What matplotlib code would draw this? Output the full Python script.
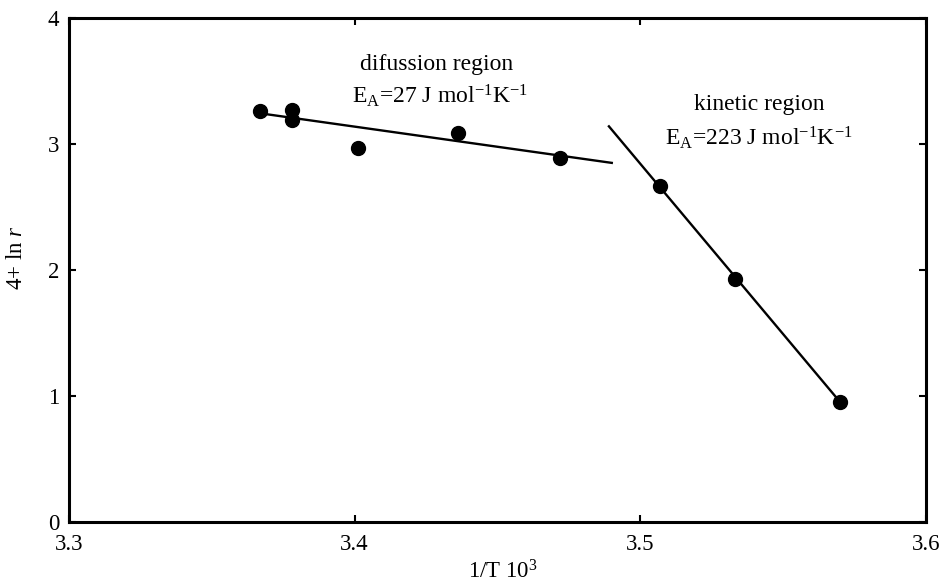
# %% IMPORTS
import matplotlib
matplotlib.use("Agg")
import matplotlib.pyplot as plt

plt.rcParams["font.family"] = ["Liberation Serif", "DejaVu Serif"]
plt.rcParams["mathtext.fontset"] = "custom"
plt.rcParams["mathtext.rm"] = "Liberation Serif"
plt.rcParams["mathtext.it"] = "Liberation Serif:italic"

# %% DATA
# measured points (1/T * 10^3, 4 + ln r)
inv_T = [3.367, 3.378, 3.378, 3.401, 3.436, 3.472, 3.507, 3.533, 3.570]
ln_r  = [3.26, 3.27, 3.19, 2.97, 3.09, 2.89, 2.67, 1.93, 0.95]

# fitted lines (end points)
diff_x = [3.368, 3.490]
diff_y = [3.24, 2.85]
kin_x  = [3.489, 3.570]
kin_y  = [3.14, 0.95]

x_ticks = [3.3, 3.4, 3.5, 3.6]
y_ticks = [0, 1, 2, 3, 4]

# %% PLOT
fig = plt.figure(figsize=(9.48, 5.84), dpi=100)
ax = fig.add_axes([0.0728, 0.1062, 0.904, 0.863])

ax.plot(diff_x, diff_y, color="black", lw=1.7)
ax.plot(kin_x, kin_y, color="black", lw=1.7)
ax.plot(inv_T, ln_r, "o", color="black", markersize=10, zorder=3)

ax.set_xlim(3.3, 3.6)
ax.set_ylim(0, 4)
ax.set_xticks(x_ticks)
ax.set_xticklabels([f"{t:.1f}" for t in x_ticks])
ax.set_yticks(y_ticks)
ax.tick_params(direction="in", length=5, width=1.5, labelsize=16.5,
               top=True, right=True)
ax.tick_params(axis="x", pad=9)
ax.tick_params(axis="y", pad=7)
for sp in ax.spines.values():
    sp.set_linewidth(2.2)

ax.set_xlabel(r"1/T 10$^3$", fontsize=16.5, va="baseline")
ax.xaxis.set_label_coords(0.506, -0.113)
ax.set_ylabel(r"4+ ln $\mathit{r}$", fontsize=16.5)
ax.yaxis.set_label_coords(-0.049, 0.524)

ax.text(3.4288, 3.63, "difussion region", fontsize=17, ha="center", va="center")
ax.text(3.4299, 3.38, r"E$_\mathrm{A}$=27 J mol$^\mathrm{-1}$K$^\mathrm{-1}$",
        fontsize=17, ha="center", va="center")
ax.text(3.5415, 3.31, "kinetic region", fontsize=17, ha="center", va="center")
ax.text(3.5415, 3.05, r"E$_\mathrm{A}$=223 J mol$^\mathrm{-1}$K$^\mathrm{-1}$",
        fontsize=17, ha="center", va="center")

fig.savefig("out.png", dpi=100)
# %% END
